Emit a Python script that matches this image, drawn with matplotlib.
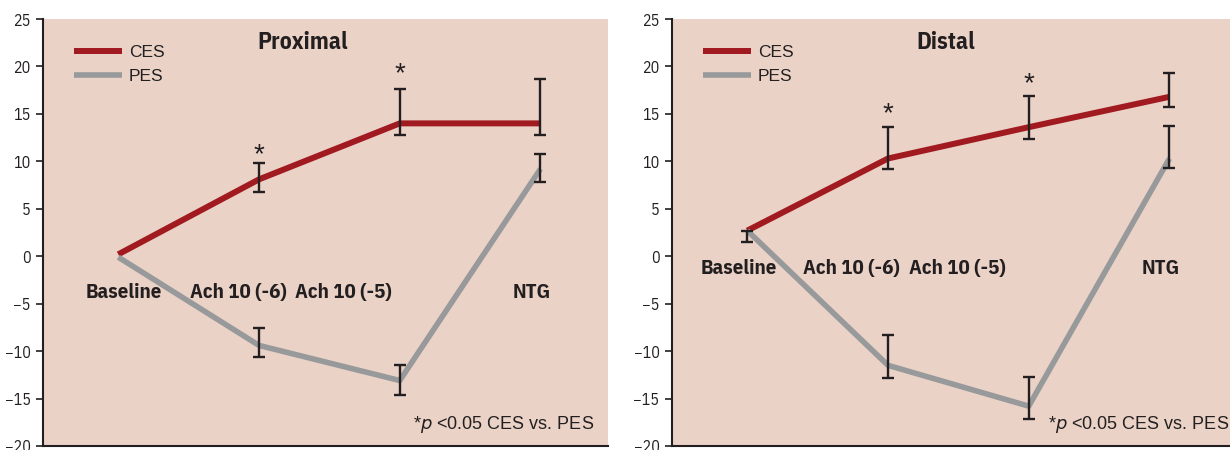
import numpy as np
import matplotlib.pyplot as plt

categories = ['Baseline', 'Ach 10 (-6)', 'Ach 10 (-5)', 'NTG']
titles = ['Proximal', 'Distal']

# proximal
prox_ces = [0.2, 8.1, 14.0, 14.0]
prox_ces_lo = [np.nan, 6.8, 12.8, 12.8]
prox_ces_hi = [np.nan, 9.8, 17.6, 18.7]
prox_pes = [-0.1, -9.4, -13.1, 9.2]
prox_pes_lo = [np.nan, -10.6, -14.6, 7.8]
prox_pes_hi = [np.nan, -7.6, -11.5, 10.8]
prox_star = [np.nan, 10.6, 19.2, np.nan]

# distal
dist_ces = [2.7, 10.3, 13.6, 16.8]
dist_ces_lo = [1.5, 9.2, 12.4, 15.7]
dist_ces_hi = [2.7, 13.6, 16.9, 19.3]
dist_pes = [2.7, -11.5, -15.8, 10.3]
dist_pes_lo = [np.nan, -12.8, -17.2, 9.3]
dist_pes_hi = [np.nan, -8.3, -12.7, 13.7]
dist_star = [np.nan, 15.0, 18.1, np.nan]

BG = '#EAD2C6'
RED = '#A01A20'
GREY = '#97999B'
INK = '#231F20'
NARROW = ['IBM Plex Sans Condensed', 'DejaVu Sans']
REG = ['Liberation Sans', 'DejaVu Sans']

fig = plt.figure(figsize=(12.3, 4.5), dpi=100)
ax1 = fig.add_axes([43/1230, 4/450, 565/1230, 427/450])
ax2 = fig.add_axes([672/1230, 4/450, 565/1230, 427/450])

panels = [
    (ax1, prox_ces, prox_ces_lo, prox_ces_hi, prox_pes, prox_pes_lo, prox_pes_hi, prox_star,
     [0.04, -0.15, -0.40, -0.06], -3.8, 0.46, 0.975),
    (ax2, dist_ces, dist_ces_lo, dist_ces_hi, dist_pes, dist_pes_lo, dist_pes_hi, dist_star,
     [-0.06, -0.26, -0.51, -0.06], -1.3, 0.485, 0.986),
]

x = np.arange(len(categories))
for i, (ax, ces, clo, chi, pes, plo, phi, star, lab_dx, lab_y, tx, nx) in enumerate(panels):
    ax.set_facecolor(BG)
    ax.plot(x, ces, color=RED, lw=4.3, label='CES', solid_joinstyle='round',
            solid_capstyle='butt', zorder=3)
    ax.plot(x, pes, color=GREY, lw=4.0, label='PES', solid_joinstyle='round',
            solid_capstyle='butt', zorder=3)
    for vals, lo, hi in [(ces, clo, chi), (pes, plo, phi)]:
        vals, lo, hi = np.array(vals), np.array(lo), np.array(hi)
        ok = ~np.isnan(lo)
        ax.errorbar(x[ok], vals[ok], yerr=[vals[ok] - lo[ok], hi[ok] - vals[ok]],
                    fmt='none', ecolor=INK, elinewidth=1.7, capsize=4, capthick=1.7, zorder=4)
    for xi, s in zip(x, star):
        if not np.isnan(s):
            ax.text(xi, s, '*', ha='center', va='center', fontsize=20, color=INK, family=REG)
    for xi, dx, name in zip(x, lab_dx, categories):
        ax.text(xi + dx, lab_y, name, ha='center', va='center', fontsize=15,
                fontweight='bold', color=INK, family=NARROW)
    ax.text(tx, 0.945, titles[i], transform=ax.transAxes, ha='center', va='center',
            fontsize=17, fontweight='bold', color=INK, family=NARROW)
    ax.text(nx, 0.05, r'*$\it{p}$ <0.05 CES vs. PES', transform=ax.transAxes,
            ha='right', va='center', fontsize=13, color=INK, family=REG)
    ax.legend(loc='upper left', bbox_to_anchor=(0.043, 0.955), borderaxespad=0,
              frameon=False, handlelength=2.75, handletextpad=0.4, labelspacing=0.52,
              prop={'family': REG, 'size': 12.5}, labelcolor=INK)
    ax.set_xlim(-0.535, 3.48)
    ax.set_ylim(-20, 25)
    ax.set_yticks(np.arange(-20, 26, 5))
    ax.set_yticklabels([str(v).replace('-', '\u2212') for v in range(-20, 26, 5)],
                       family=NARROW, fontsize=11.5, color=INK)
    ax.set_xticks([])
    for side in ['top', 'right']:
        ax.spines[side].set_visible(False)
    for side in ['left', 'bottom']:
        ax.spines[side].set_color(INK)
        ax.spines[side].set_linewidth(1.5)
    ax.tick_params(axis='y', length=5, width=1.2, color=INK, pad=4)

fig.savefig('out.png', dpi=100)
